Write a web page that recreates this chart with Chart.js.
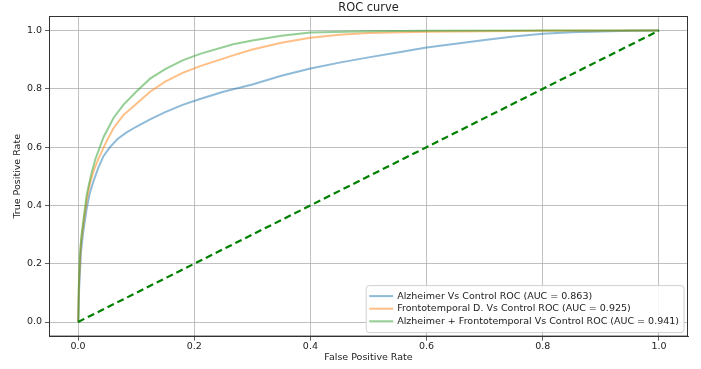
<!DOCTYPE html>
<html>
<head>
<meta charset="utf-8">
<script src="https://cdn.jsdelivr.net/npm/chart.js@4.4.0/dist/chart.umd.min.js"></script>
<style>
    body { margin: 0; background: #fff; }
    canvas { display: block; }
</style>
</head>
<body>
<canvas id="myChart" width="701" height="369"></canvas>
<script>
// ROC points
const alzFpr = [0, 0.002, 0.005, 0.009, 0.015, 0.02, 0.026, 0.035, 0.044, 0.055, 0.068, 0.083, 0.1, 0.124, 0.15, 0.18, 0.21, 0.25, 0.3, 0.35, 0.4, 0.45, 0.5, 0.55, 0.6, 0.65, 0.7, 0.75, 0.8, 0.85, 0.9, 0.95, 1.0];
const alzTpr = [0, 0.12, 0.24, 0.31, 0.39, 0.44, 0.48, 0.53, 0.57, 0.6, 0.628, 0.65, 0.67, 0.695, 0.72, 0.745, 0.765, 0.79, 0.815, 0.845, 0.87, 0.89, 0.908, 0.925, 0.942, 0.955, 0.968, 0.98, 0.989, 0.994, 0.997, 0.999, 1.0];

const ftdFpr = [0, 0.002, 0.005, 0.01, 0.015, 0.021, 0.028, 0.035, 0.049, 0.061, 0.078, 0.1, 0.124, 0.15, 0.18, 0.21, 0.267, 0.3, 0.35, 0.4, 0.45, 0.5, 0.6, 0.7, 0.8, 1.0];
const ftdTpr = [0, 0.15, 0.27, 0.35, 0.42, 0.48, 0.525, 0.56, 0.62, 0.665, 0.71, 0.748, 0.79, 0.825, 0.855, 0.878, 0.915, 0.935, 0.958, 0.975, 0.986, 0.992, 0.996, 0.998, 0.999, 1.0];

const bothFpr = [0, 0.001, 0.003, 0.006, 0.009, 0.015, 0.023, 0.03, 0.044, 0.061, 0.078, 0.1, 0.124, 0.15, 0.18, 0.21, 0.267, 0.3, 0.35, 0.4, 0.5, 0.6, 0.8, 1.0];
const bothTpr = [0, 0.1, 0.23, 0.3, 0.346, 0.438, 0.51, 0.56, 0.635, 0.7, 0.745, 0.79, 0.835, 0.868, 0.898, 0.92, 0.953, 0.966, 0.982, 0.993, 0.998, 0.999, 1.0, 1.0];

const chanceFpr = [0, 1];
const chanceTpr = [0, 1];

const seriesLabels = [
    'Alzheimer Vs Control ROC (AUC = 0.863)',
    'Frontotemporal D. Vs Control ROC (AUC = 0.925)',
    'Alzheimer + Frontotemporal Vs Control ROC (AUC = 0.941)'
];
const tickValues = [0, 0.2, 0.4, 0.6, 0.8, 1.0];

const fontFamily = '"DejaVu Sans", sans-serif';
const labelSize = 9.5;

function toPoints(xs, ys) {
    return xs.map(function (x, i) { return { x: x, y: ys[i] }; });
}

function setTicks(scale) {
    scale.ticks = tickValues.map(function (v) { return { value: v }; });
}

// title, top/right spines and the legend box inside the axes
const extras = {
    id: 'extras',
    afterDraw: function (chart) {
        const ctx = chart.ctx;
        const a = chart.chartArea;
        ctx.save();
        ctx.strokeStyle = '#333';
        ctx.lineWidth = 1;
        ctx.strokeRect(a.left + 0.5, a.top + 0.5, a.right - a.left - 1, a.bottom - a.top - 1);

        ctx.fillStyle = '#222';
        ctx.font = '11.4px ' + fontFamily;
        ctx.textAlign = 'center';
        ctx.textBaseline = 'middle';
        ctx.fillText('ROC curve', (a.left + a.right) / 2, 8);

        // legend
        ctx.font = labelSize + 'px ' + fontFamily;
        let maxW = 0;
        seriesLabels.forEach(function (t) { maxW = Math.max(maxW, ctx.measureText(t).width); });
        const boxW = 31 + maxW + 5;
        const boxH = 47;
        const bx = a.right - 4 - boxW;
        const by = a.bottom - 4 - boxH;
        ctx.fillStyle = 'rgba(255,255,255,0.85)';
        ctx.strokeStyle = '#d0d0d0';
        ctx.beginPath();
        ctx.roundRect(bx, by, boxW, boxH, 3);
        ctx.fill();
        ctx.stroke();
        ctx.textAlign = 'left';
        chart.data.datasets.slice(0, 3).forEach(function (ds, i) {
            const cy = by + 10.5 + i * 12.6;
            ctx.strokeStyle = ds.borderColor;
            ctx.lineWidth = 2;
            ctx.beginPath();
            ctx.moveTo(bx + 3, cy);
            ctx.lineTo(bx + 27, cy);
            ctx.stroke();
            ctx.fillStyle = '#222';
            ctx.fillText(seriesLabels[i], bx + 31, cy);
        });
        ctx.restore();
    }
};

const scaleBase = {
    type: 'linear',
    min: -0.05,
    max: 1.05,
    afterBuildTicks: setTicks,
    grid: { color: '#b0b0b0', lineWidth: 0.8, tickLength: 4, tickColor: '#333' },
    border: { display: true, color: '#333', width: 1 },
};

const config = {
    type: 'scatter',
    data: {
        datasets: [{
            data: toPoints(alzFpr, alzTpr),
            borderColor: 'rgba(31,119,180,0.5)',
            borderWidth: 2,
            order: 4
        }, {
            data: toPoints(ftdFpr, ftdTpr),
            borderColor: 'rgba(255,127,14,0.5)',
            borderWidth: 2,
            order: 3
        }, {
            data: toPoints(bothFpr, bothTpr),
            borderColor: 'rgba(44,160,44,0.5)',
            borderWidth: 2,
            order: 2
        }, {
            data: toPoints(chanceFpr, chanceTpr),
            borderColor: '#008000',
            borderWidth: 2.2,
            borderDash: [7, 4],
            order: 1
        }]
    },
    options: {
        responsive: false,
        animation: false,
        showLine: true,
        elements: { point: { radius: 0, hoverRadius: 0 }, line: { tension: 0 } },
        layout: { padding: { top: 16, right: 13, left: 0, bottom: 0 } },
        plugins: { legend: { display: false }, title: { display: false }, tooltip: { enabled: false } },
        scales: {
            x: Object.assign({}, scaleBase, {
                ticks: { padding: 0, maxRotation: 0, minRotation: 0, autoSkip: false,
                    color: '#222', font: { family: fontFamily, size: labelSize },
                    callback: function (v) { return v.toFixed(1); } },
                title: { display: true, text: 'False Positive Rate', color: '#222',
                    font: { family: fontFamily, size: labelSize }, padding: { top: 0, bottom: 5.6 } }
            }),
            y: Object.assign({}, scaleBase, {
                ticks: { padding: 3, autoSkip: false, color: '#222', font: { family: fontFamily, size: labelSize },
                    callback: function (v) { return v.toFixed(1); } },
                title: { display: true, text: 'True Positive Rate', color: '#222',
                    font: { family: fontFamily, size: labelSize }, padding: { top: 12, bottom: 0 } },
                afterFit: function (s) { s.width = 49; }
            })
        }
    },
    plugins: [extras]
};

window.onload = function () {
    new Chart(document.getElementById('myChart'), config);
};
</script>
</body>
</html>
